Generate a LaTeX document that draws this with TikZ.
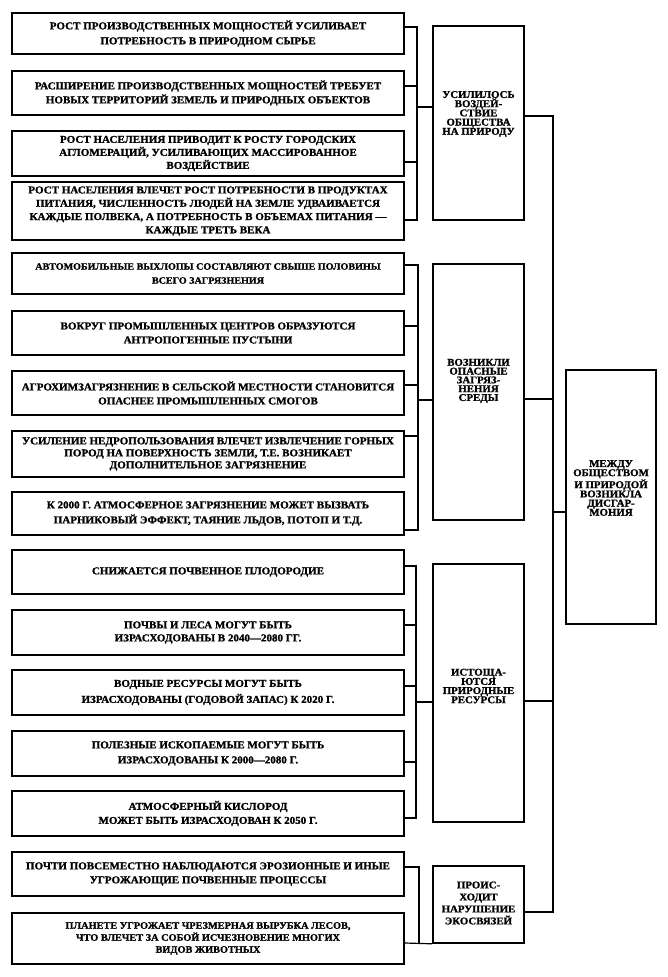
\documentclass[tikz,border=0pt]{standalone}
\usepackage{fontspec}
\setmainfont{Liberation Serif}[FakeStretch=1.05, BoldFeatures={FakeBold=1.2}]
\begin{document}
\begin{tikzpicture}[x=1pt,y=-1pt,
  lbox/.style={draw, line width=1.6pt, minimum width=392pt, inner sep=0pt, align=center,
    font=\bfseries\fontsize{10.5}{#1}\selectfont},
  lbox/.default=13.5,
  mbox/.style={draw, line width=1.6pt, minimum width=91pt, inner sep=0pt},
  mtxt/.style={align=center, inner sep=0pt, font=\bfseries\fontsize{10.3}{#1}\selectfont},
  mtxt/.default=9.2,
  conn/.style={line width=1.2pt}]
\useasboundingbox[fill=white] (0,0) rectangle (667,977);

% ---- left boxes ----
\node[lbox=15, minimum height=41pt] (b1) at (208,33.5) {РОСТ ПРОИЗВОДСТВЕННЫХ МОЩНОСТЕЙ УСИЛИВАЕТ\\ПОТРЕБНОСТЬ В ПРИРОДНОМ СЫРЬЕ};
\node[lbox=14, minimum height=44pt] (b2) at (208,93) {РАСШИРЕНИЕ ПРОИЗВОДСТВЕННЫХ МОЩНОСТЕЙ ТРЕБУЕТ\\НОВЫХ ТЕРРИТОРИЙ ЗЕМЕЛЬ И ПРИРОДНЫХ ОБЪЕКТОВ};
\node[lbox=13, minimum height=45pt] (b3) at (208,153.5) {РОСТ НАСЕЛЕНИЯ ПРИВОДИТ К РОСТУ ГОРОДСКИХ\\АГЛОМЕРАЦИЙ, УСИЛИВАЮЩИХ МАССИРОВАННОЕ\\ВОЗДЕЙСТВИЕ};
\node[lbox=13.3, minimum height=58pt] (b4) at (208,211) {РОСТ НАСЕЛЕНИЯ ВЛЕЧЕТ РОСТ ПОТРЕБНОСТИ В ПРОДУКТАХ\\ПИТАНИЯ, ЧИСЛЕННОСТЬ ЛЮДЕЙ НА ЗЕМЛЕ УДВАИВАЕТСЯ\\КАЖДЫЕ ПОЛВЕКА, А ПОТРЕБНОСТЬ В ОБЪЕМАХ ПИТАНИЯ —\\КАЖДЫЕ ТРЕТЬ ВЕКА};

\node[lbox=14, minimum height=41pt, font=\bfseries\fontsize{9.6}{14}\selectfont] (b5) at (208,273.5) {АВТОМОБИЛЬНЫЕ ВЫХЛОПЫ СОСТАВЛЯЮТ СВЫШЕ ПОЛОВИНЫ\\ВСЕГО ЗАГРЯЗНЕНИЯ};
\node[lbox=14, minimum height=44pt] (b6) at (208,333) {ВОКРУГ ПРОМЫШЛЕННЫХ ЦЕНТРОВ ОБРАЗУЮТСЯ\\АНТРОПОГЕННЫЕ ПУСТЫНИ};
\node[lbox=14, minimum height=44pt] (b7) at (208,393) {АГРОХИМЗАГРЯЗНЕНИЕ В СЕЛЬСКОЙ МЕСТНОСТИ СТАНОВИТСЯ\\ОПАСНЕЕ ПРОМЫШЛЕННЫХ СМОГОВ};
\node[lbox=12, minimum height=46pt] (b8) at (208,454) {УСИЛЕНИЕ НЕДРОПОЛЬЗОВАНИЯ ВЛЕЧЕТ ИЗВЛЕЧЕНИЕ ГОРНЫХ\\ПОРОД НА ПОВЕРХНОСТЬ ЗЕМЛИ, Т.Е. ВОЗНИКАЕТ\\ДОПОЛНИТЕЛЬНОЕ ЗАГРЯЗНЕНИЕ};
\node[lbox=15, minimum height=43pt] (b9) at (208,513.5) {К 2000 Г. АТМОСФЕРНОЕ ЗАГРЯЗНЕНИЕ МОЖЕТ ВЫЗВАТЬ\\ПАРНИКОВЫЙ ЭФФЕКТ, ТАЯНИЕ ЛЬДОВ, ПОТОП И Т.Д.};

\node[lbox, minimum height=44pt] (b10) at (208,572) {СНИЖАЕТСЯ ПОЧВЕННОЕ ПЛОДОРОДИЕ};
\node[lbox=13, minimum height=45pt] (b11) at (208,632.5) {ПОЧВЫ И ЛЕСА МОГУТ БЫТЬ\\ИЗРАСХОДОВАНЫ В 2040—2080 ГГ.};
\node[lbox=16, minimum height=45pt] (b12) at (208,692.5) {ВОДНЫЕ РЕСУРСЫ МОГУТ БЫТЬ\\ИЗРАСХОДОВАНЫ (ГОДОВОЙ ЗАПАС) К 2020 Г.};
\node[lbox=15, minimum height=45pt] (b13) at (208,753.5) {ПОЛЕЗНЫЕ ИСКОПАЕМЫЕ МОГУТ БЫТЬ\\ИЗРАСХОДОВАНЫ К 2000—2080 Г.};
\node[lbox=14, minimum height=45pt] (b14) at (208,813.5) {АТМОСФЕРНЫЙ КИСЛОРОД\\МОЖЕТ БЫТЬ ИЗРАСХОДОВАН К 2050 Г.};

\node[lbox=14, minimum height=44pt] (b15) at (208,874) {ПОЧТИ ПОВСЕМЕСТНО НАБЛЮДАЮТСЯ ЭРОЗИОННЫЕ И ИНЫЕ\\УГРОЖАЮЩИЕ ПОЧВЕННЫЕ ПРОЦЕССЫ};
\node[lbox=12, minimum height=51pt, font=\bfseries\fontsize{9.8}{12}\selectfont] (b16) at (208,938.5) {ПЛАНЕТЕ УГРОЖАЕТ ЧРЕЗМЕРНАЯ ВЫРУБКА ЛЕСОВ,\\ЧТО ВЛЕЧЕТ ЗА СОБОЙ ИСЧЕЗНОВЕНИЕ МНОГИХ\\ВИДОВ ЖИВОТНЫХ};

% ---- middle boxes ----
\node[mbox, minimum height=194pt] (m1) at (478.5,123) {};
\node[mtxt] (m1t) at (478.5,114) {УСИЛИЛОСЬ\\ВОЗДЕЙ-\\СТВИЕ\\ОБЩЕСТВА\\НА ПРИРОДУ};
\node[mbox, minimum height=256pt] (m2) at (478.5,392) {};
\node[mtxt=8.8] (m2t) at (478.5,381) {ВОЗНИКЛИ\\ОПАСНЫЕ\\ЗАГРЯЗ-\\НЕНИЯ\\СРЕДЫ};
\node[mbox, minimum height=258pt] (m3) at (478.5,693) {};
\node[mtxt] (m3t) at (478.5,686) {ИСТОЩА-\\ЮТСЯ\\ПРИРОДНЫЕ\\РЕСУРСЫ};
\node[mbox, minimum height=77pt] (m4) at (478.5,904.5) {};
\node[mtxt=12] (m4t) at (478.5,903) {ПРОИС-\\ХОДИТ\\НАРУШЕНИЕ\\ЭКОСВЯЗЕЙ};

% ---- right box ----
\node[mbox, minimum width=90pt, minimum height=254pt] (r) at (611,497) {};
\node[mtxt] (rt) at (611,488) {МЕЖДУ\\ОБЩЕСТВОМ\\И ПРИРОДОЙ\\ВОЗНИКЛА\\ДИСГАР-\\МОНИЯ};

% ---- group brackets ----
\coordinate (g1) at (417,107);
\draw[conn] ([yshift=6.5pt]b1.east) -| (g1);
\draw[conn] ([yshift=7pt]b2.east) -| (g1);
\draw[conn] ([yshift=-8.5pt]b3.east) -| (g1);
\draw[conn] ([yshift=-9pt]b4.east) -| (g1);
\draw[conn] (g1) -- (g1 -| m1.west);

\coordinate (g2) at (418,400);
\draw[conn] ([yshift=8.5pt]b5.east) -| (g2);
\draw[conn] ([yshift=7pt]b6.east) -| (g2);
\draw[conn] ([yshift=8pt]b7.east) -| (g2);
\draw[conn] ([yshift=18pt]b8.east) -| (g2);
\draw[conn] ([yshift=-16.5pt]b9.east) -| (g2);
\draw[conn] (g2) -- (g2 -| m2.west);

\coordinate (g3) at (416,702);
\draw[conn] ([yshift=6pt]b10.east) -| (g3);
\draw[conn] ([yshift=7.5pt]b11.east) -| (g3);
\draw[conn] ([yshift=6.5pt]b12.east) -| (g3);
\draw[conn] ([yshift=-8.5pt]b13.east) -| (g3);
\draw[conn] ([yshift=-4.5pt]b14.east) -| (g3);
\draw[conn] (g3) -- (g3 -| m3.west);

\coordinate (g4) at (419,943);
\draw[conn] ([yshift=7pt]b15.east) -| (g4);
\draw[conn] ([yshift=-4.5pt]b16.east) -- (m4.south west);

% ---- spine to the right box ----
\coordinate (jt) at (553,116);
\coordinate (jb) at (553,912);
\coordinate (jr) at (553,512);
\draw[conn] (m1.east |- jt) -- (jt) -- (jb) -- (m4.east |- jb);
\draw[conn] ([yshift=-7pt]m2.east) -- ([yshift=-7pt]m2.east -| jt);
\draw[conn] ([yshift=-8pt]m3.east) -- ([yshift=-8pt]m3.east -| jt);
\draw[conn] (jr) -- (jr -| r.west);
\end{tikzpicture}
\end{document}
